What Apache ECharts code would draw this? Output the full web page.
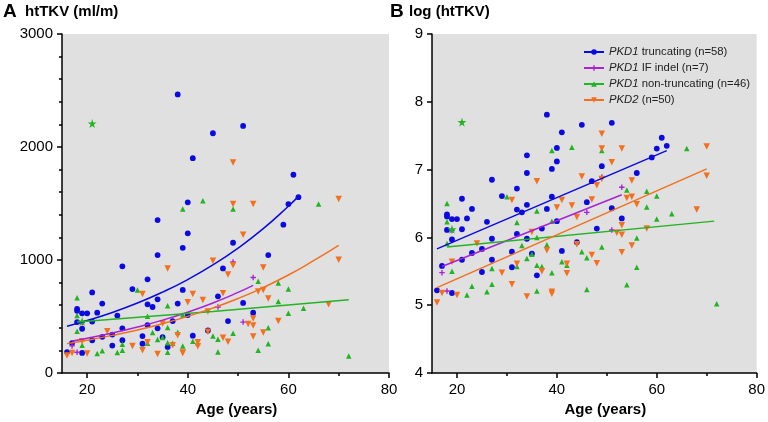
<!DOCTYPE html>
<html>
<head>
<meta charset="utf-8">
<script src="https://cdn.jsdelivr.net/npm/echarts@6/dist/echarts.min.js"></script>
<style>
html,body{margin:0;padding:0;background:#fff;}
#chart{width:768px;height:422px;}
</style>
</head>
<body>
<div id="chart"></div>
<script>
// ---- Data (age in years, natural log of htTKV) ----
const truncAge = [38,45,51,41,61,62,60,40,34,40,59,39,49,34,56,47,27,29,32,39,21,46,34,23,38,51,18,18,19,20,22,18,21,26,19,32,33,40,37,32,27,34,25,23,31,41,35,21,27,17,31,25,36,16,19,44,48,53];
const truncLog = [7.81,7.66,7.69,7.55,7.47,7.35,7.31,7.32,7.21,7.12,7.18,7.01,7.05,6.95,6.95,6.83,6.85,6.61,6.72,6.60,6.57,6.52,6.48,6.42,6.42,6.43,6.34,6.31,6.27,6.27,6.28,6.11,6.12,6.23,5.97,6.41,6.37,6.24,6.13,6.05,5.98,5.98,5.83,5.77,5.79,5.80,5.76,5.67,5.67,5.58,5.56,5.49,5.44,5.22,5.18,5.93,6.13,6.28];

const indelAge = [17,18,19,46,49,51,53];
const indelLog = [5.48,5.21,6.10,6.37,6.89,6.11,6.74];

const nontruncAge = [21,39,43,49,66,54,58,60,30,18,18,19,18,19,22,23,26,27,27,32,32,33,34,35,36,36,36,36,37,38,39,39,41,42,45,46,46,49,54,56,56,58,60,63,72];
const nontruncLog = [7.70,7.28,7.33,7.28,7.31,6.70,6.68,6.61,6.60,6.50,6.23,6.12,5.91,5.50,5.15,5.28,5.20,5.31,5.54,6.22,5.57,5.88,5.69,5.75,6.39,5.59,5.21,6.00,5.57,5.89,5.48,6.24,5.64,5.59,5.79,5.70,5.23,5.86,5.30,5.99,5.56,6.45,6.27,6.35,5.02];
const starIdx = [0,11]; // indices of the star-marked non-truncating points

const pkd2Age = [16,17,19,20,24,29,31,31,32,34,35,36,37,38,39,39,40,41,42,42,43,44,44,45,47,47,48,48,49,49,49,51,52,53,53,53,53,54,55,55,55,56,58,68,70,70];
const pkd2Log = [5.04,5.18,5.64,5.15,5.91,5.48,5.31,6.55,5.61,5.13,6.08,6.83,5.50,5.81,5.20,5.17,6.44,6.55,5.47,5.61,6.47,6.30,5.90,6.90,5.74,6.56,6.77,5.62,7.53,7.31,6.86,7.11,6.07,7.31,6.18,6.04,5.78,6.58,6.60,6.84,5.88,6.49,6.13,6.41,7.34,6.91];

// Fitted curves in panel A (htTKV, ml/m)
const fitA_truncAge = [16,20,25,30,35,40,45,50,55,60,62];
const fitA_truncVal = [413,464,536,619,716,827,956,1105,1277,1476,1563];
const fitA_indelAge = [17,20,25,30,35,40,45,50,53];
const fitA_indelVal = [283,308,354,407,468,539,620,713,775];
const fitA_nontruncAge = [18,45,72];
const fitA_nontruncVal = [451,544,649];
const fitA_pkd2Age = [16,20,25,30,35,40,45,50,55,60,65,70];
const fitA_pkd2Val = [260,290,333,381,437,501,575,659,756,867,994,1130];

// Regression lines in panel B (log htTKV)
const fitB_truncAge = [16,62];    const fitB_truncVal = [5.83,7.28];
const fitB_indelAge = [17,53];    const fitB_indelVal = [5.57,6.63];
const fitB_nontruncAge = [18,71.5]; const fitB_nontruncVal = [5.86,6.24];
const fitB_pkd2Age = [16,70];     const fitB_pkd2Val = [5.26,7.01];

const legendNames = ['PKD1 truncating (n=58)','PKD1 IF indel (n=7)','PKD1 non-truncating (n=46)','PKD2 (n=50)'];
const ageTicks = [20,40,60,80];
const ageMinorTicks = [30,50,70];

// ---- Styles ----
const C = {trunc:'#0a0ae0', indel:'#a823d6', nontrunc:'#22b422', pkd2:'#f2701e'};
const FONT = 'Liberation Sans, Arial, Helvetica, sans-serif';
const PLUS = 'path://M3,0H5V3H8V5H5V8H3V5H0V3H3Z';
const STAR = 'path://M50,0L61,35L98,35L68,57L79,91L50,70L21,91L32,57L2,35L39,35Z';

function pairs(xs, ys, tf){ return xs.map((x,i)=>[x, tf ? tf(ys[i]) : ys[i]]); }
function greenData(tf){
  return nontruncAge.map((a,i)=>{
    const item = {value:[a, tf ? tf(nontruncLog[i]) : nontruncLog[i]]};
    if (starIdx.indexOf(i) >= 0) { item.symbol = STAR; item.symbolSize = 9; }
    return item;
  });
}

function xAxes(grid){
  return [{
    gridIndex:grid, type:'value', min:15, max:80,
    axisLine:{lineStyle:{color:'#000', width:1.5}},
    axisTick:{customValues:ageTicks, length:5, lineStyle:{color:'#000', width:1.5}},
    axisLabel:{customValues:ageTicks, color:'#000', fontSize:15, fontFamily:FONT, margin:9},
    splitLine:{show:false},
    name:'Age (years)', nameLocation:'middle', nameGap:29,
    nameTextStyle:{color:'#000', fontSize:15, fontWeight:'bold', fontFamily:FONT, padding:[0,0,0,22]}
  },{
    gridIndex:grid, type:'value', min:15, max:80, position:'bottom',
    axisLine:{show:false},
    axisTick:{customValues:ageMinorTicks, length:3, lineStyle:{color:'#000', width:1.5}},
    axisLabel:{show:false}, splitLine:{show:false}
  }];
}

function yAxis(grid, min, max, interval, minor){
  return {
    gridIndex:grid, type:'value', min:min, max:max, interval:interval,
    axisLine:{show:true, lineStyle:{color:'#000', width:1.5}},
    axisTick:{show:true, length:5, lineStyle:{color:'#000', width:1.5}},
    minorTick:{show:minor, splitNumber:5, length:3, lineStyle:{color:'#000', width:1.5}},
    axisLabel:{color:'#000', fontSize:15, fontFamily:FONT, margin:9, formatter:function(v){return String(v);}},
    splitLine:{show:false}, minorSplitLine:{show:false}
  };
}

function scatter(name, xi, yi, data, color, symbol, size, rotate){
  return {name:name, type:'scatter', xAxisIndex:xi, yAxisIndex:yi, data:data,
    symbol:symbol, symbolSize:size, symbolRotate:rotate||0,
    itemStyle:{color:color, opacity:1}, z:3};
}
function fitLine(name, xi, yi, data, color, smooth, symbol, rotate){
  return {name:name, type:'line', xAxisIndex:xi, yAxisIndex:yi, data:data,
    smooth:smooth, showSymbol:false, symbol:symbol||'none', symbolRotate:rotate||0,
    lineStyle:{color:color, width:1.5}, itemStyle:{color:color}, z:4};
}

const exp = Math.exp;
const series = [
  // Panel A scatter
  scatter('A-trunc',0,0,pairs(truncAge,truncLog,exp),C.trunc,'circle',5.8),
  scatter('A-indel',0,0,pairs(indelAge,indelLog,exp),C.indel,PLUS,5.5),
  scatter('A-nontrunc',0,0,greenData(exp),C.nontrunc,'triangle',5.5),
  scatter('A-pkd2',0,0,pairs(pkd2Age,pkd2Log,exp),C.pkd2,'triangle',6.5,180),
  // Panel A curves
  fitLine('A-fit-trunc',0,0,pairs(fitA_truncAge,fitA_truncVal),C.trunc,true),
  fitLine('A-fit-indel',0,0,pairs(fitA_indelAge,fitA_indelVal),C.indel,true),
  fitLine('A-fit-nontrunc',0,0,pairs(fitA_nontruncAge,fitA_nontruncVal),C.nontrunc,true),
  fitLine('A-fit-pkd2',0,0,pairs(fitA_pkd2Age,fitA_pkd2Val),C.pkd2,true),
  // Panel B scatter
  scatter('B-trunc',2,1,pairs(truncAge,truncLog),C.trunc,'circle',5.8),
  scatter('B-indel',2,1,pairs(indelAge,indelLog),C.indel,PLUS,5.5),
  scatter('B-nontrunc',2,1,greenData(null),C.nontrunc,'triangle',5.5),
  scatter('B-pkd2',2,1,pairs(pkd2Age,pkd2Log),C.pkd2,'triangle',6.5,180),
  // Panel B regression lines (also legend entries)
  fitLine(legendNames[0],2,1,pairs(fitB_truncAge,fitB_truncVal),C.trunc,false,'circle'),
  fitLine(legendNames[1],2,1,pairs(fitB_indelAge,fitB_indelVal),C.indel,false,PLUS),
  fitLine(legendNames[2],2,1,pairs(fitB_nontruncAge,fitB_nontruncVal),C.nontrunc,false,'triangle'),
  fitLine(legendNames[3],2,1,pairs(fitB_pkd2Age,fitB_pkd2Val),C.pkd2,false,'triangle',180)
];

const chart = echarts.init(document.getElementById('chart'), null, {renderer:'canvas'});
chart.setOption({
  animation:false,
  backgroundColor:'#ffffff',
  grid:[
    {left:62, top:34, width:327, height:342, show:true, backgroundColor:'#e0e0e0', borderWidth:0},
    {left:432, top:34, width:327, height:343, show:true, backgroundColor:'#e0e0e0', borderWidth:0}
  ],
  xAxis:[].concat(xAxes(0), xAxes(1)),
  yAxis:[yAxis(0,0,3000,1000,true), yAxis(1,4,9,1,false)],
  legend:{
    data:legendNames, orient:'vertical', left:578, top:40,
    itemWidth:20, itemHeight:7, itemGap:2, selectedMode:false,
    formatter:function(n){ const k=n.indexOf(' '); return '{i|'+n.slice(0,k)+'}'+n.slice(k); },
    textStyle:{color:'#222', fontSize:11.3, fontFamily:FONT, lineHeight:14,
      rich:{i:{fontStyle:'italic', color:'#222', fontSize:11.3, fontFamily:FONT, lineHeight:14}}}
  },
  graphic:[
    {type:'text', left:3, top:2, style:{text:'A', font:'bold 19px '+FONT, fill:'#000'}},
    {type:'text', left:25, top:4, style:{text:'htTKV (ml/m)', font:'bold 15px '+FONT, fill:'#000'}},
    {type:'text', left:390, top:2, style:{text:'B', font:'bold 19px '+FONT, fill:'#000'}},
    {type:'text', left:409, top:4, style:{text:'log (htTKV)', font:'bold 15px '+FONT, fill:'#000'}}
  ],
  series:series
});
</script>
</body>
</html>
